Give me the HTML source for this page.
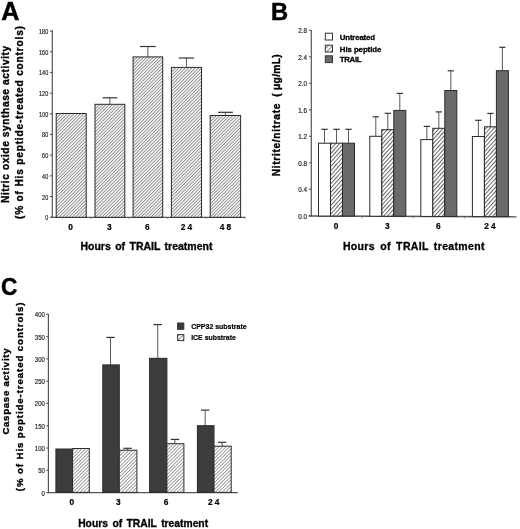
<!DOCTYPE html>
<html><head><meta charset="utf-8"><style>
html,body{margin:0;padding:0;background:#fff;overflow:hidden;}
svg{display:block;font-family:"Liberation Sans", sans-serif;}
#w{width:520px;height:529px;will-change:transform;}
</style></head><body>
<div id="w"><svg width="520" height="529" viewBox="0 0 520 529">
<defs>
<pattern id="hA" patternUnits="userSpaceOnUse" width="2.32" height="2.32" patternTransform="rotate(45)"><rect width="2.32" height="2.32" fill="#fff"/><rect x="0" y="0" width="0.95" height="2.32" fill="#8a8a8a"/></pattern>
<pattern id="hB" patternUnits="userSpaceOnUse" width="2.9" height="2.9" patternTransform="rotate(42)"><rect width="2.9" height="2.9" fill="#fff"/><rect x="0" y="0" width="1.0" height="2.9" fill="#666"/></pattern>
<pattern id="hC" patternUnits="userSpaceOnUse" width="2.45" height="2.45" patternTransform="rotate(45)"><rect width="2.45" height="2.45" fill="#fff"/><rect x="0" y="0" width="0.85" height="2.45" fill="#909090"/></pattern>
<pattern id="hL" patternUnits="userSpaceOnUse" width="3.0" height="3.0" patternTransform="rotate(45)"><rect width="3" height="3" fill="#fff"/><rect x="0" y="0" width="0.9" height="3" fill="#777"/></pattern>
</defs>
<g>
<rect width="520" height="529" fill="#fff"/>
<text x="1.30" y="20.00" font-size="25.2" font-weight="bold" text-anchor="start" fill="#000" stroke="#000" stroke-width="0.45">A</text>
<line x1="52.30" y1="30.30" x2="52.30" y2="217.80" stroke="#555" stroke-width="1.2"/>
<line x1="50.60" y1="217.30" x2="245.50" y2="217.30" stroke="#555" stroke-width="1.3"/>
<line x1="50.00" y1="217.20" x2="52.30" y2="217.20" stroke="#555" stroke-width="1.1"/>
<text x="48.20" y="220.20" font-size="7" font-weight="normal" text-anchor="end" textLength="3.05" lengthAdjust="spacingAndGlyphs" fill="#222" stroke="#222" stroke-width="0.18">0</text>
<line x1="50.00" y1="196.52" x2="52.30" y2="196.52" stroke="#555" stroke-width="1.1"/>
<text x="48.20" y="199.52" font-size="7" font-weight="normal" text-anchor="end" textLength="6.10" lengthAdjust="spacingAndGlyphs" fill="#222" stroke="#222" stroke-width="0.18">20</text>
<line x1="50.00" y1="175.84" x2="52.30" y2="175.84" stroke="#555" stroke-width="1.1"/>
<text x="48.20" y="178.84" font-size="7" font-weight="normal" text-anchor="end" textLength="6.10" lengthAdjust="spacingAndGlyphs" fill="#222" stroke="#222" stroke-width="0.18">40</text>
<line x1="50.00" y1="155.16" x2="52.30" y2="155.16" stroke="#555" stroke-width="1.1"/>
<text x="48.20" y="158.16" font-size="7" font-weight="normal" text-anchor="end" textLength="6.10" lengthAdjust="spacingAndGlyphs" fill="#222" stroke="#222" stroke-width="0.18">60</text>
<line x1="50.00" y1="134.48" x2="52.30" y2="134.48" stroke="#555" stroke-width="1.1"/>
<text x="48.20" y="137.48" font-size="7" font-weight="normal" text-anchor="end" textLength="6.10" lengthAdjust="spacingAndGlyphs" fill="#222" stroke="#222" stroke-width="0.18">80</text>
<line x1="50.00" y1="113.80" x2="52.30" y2="113.80" stroke="#555" stroke-width="1.1"/>
<text x="48.20" y="116.80" font-size="7" font-weight="normal" text-anchor="end" textLength="9.15" lengthAdjust="spacingAndGlyphs" fill="#222" stroke="#222" stroke-width="0.18">100</text>
<line x1="50.00" y1="93.12" x2="52.30" y2="93.12" stroke="#555" stroke-width="1.1"/>
<text x="48.20" y="96.12" font-size="7" font-weight="normal" text-anchor="end" textLength="9.15" lengthAdjust="spacingAndGlyphs" fill="#222" stroke="#222" stroke-width="0.18">120</text>
<line x1="50.00" y1="72.44" x2="52.30" y2="72.44" stroke="#555" stroke-width="1.1"/>
<text x="48.20" y="75.44" font-size="7" font-weight="normal" text-anchor="end" textLength="9.15" lengthAdjust="spacingAndGlyphs" fill="#222" stroke="#222" stroke-width="0.18">140</text>
<line x1="50.00" y1="51.76" x2="52.30" y2="51.76" stroke="#555" stroke-width="1.1"/>
<text x="48.20" y="54.76" font-size="7" font-weight="normal" text-anchor="end" textLength="9.15" lengthAdjust="spacingAndGlyphs" fill="#222" stroke="#222" stroke-width="0.18">160</text>
<line x1="50.00" y1="31.08" x2="52.30" y2="31.08" stroke="#555" stroke-width="1.1"/>
<text x="48.20" y="34.08" font-size="7" font-weight="normal" text-anchor="end" textLength="9.15" lengthAdjust="spacingAndGlyphs" fill="#222" stroke="#222" stroke-width="0.18">180</text>
<line x1="90.60" y1="217.90" x2="90.60" y2="219.00" stroke="#999" stroke-width="0.9"/>
<line x1="129.00" y1="217.90" x2="129.00" y2="219.00" stroke="#999" stroke-width="0.9"/>
<line x1="167.30" y1="217.90" x2="167.30" y2="219.00" stroke="#999" stroke-width="0.9"/>
<line x1="205.80" y1="217.90" x2="205.80" y2="219.00" stroke="#999" stroke-width="0.9"/>
<line x1="245.00" y1="217.90" x2="245.00" y2="219.00" stroke="#999" stroke-width="0.9"/>
<rect x="56.20" y="113.50" width="30.00" height="103.80" fill="url(#hA)" stroke="#2a2a2a" stroke-width="1"/>
<line x1="109.90" y1="97.80" x2="109.90" y2="104.30" stroke="#5a5a5a" stroke-width="1.0"/>
<line x1="102.60" y1="97.80" x2="117.20" y2="97.80" stroke="#333" stroke-width="1.2"/>
<rect x="95.00" y="104.30" width="29.80" height="113.00" fill="url(#hA)" stroke="#2a2a2a" stroke-width="1"/>
<line x1="147.90" y1="46.50" x2="147.90" y2="56.90" stroke="#5a5a5a" stroke-width="1.0"/>
<line x1="140.10" y1="46.50" x2="155.70" y2="46.50" stroke="#333" stroke-width="1.2"/>
<rect x="133.10" y="56.90" width="29.60" height="160.40" fill="url(#hA)" stroke="#2a2a2a" stroke-width="1"/>
<line x1="186.45" y1="58.00" x2="186.45" y2="67.40" stroke="#5a5a5a" stroke-width="1.0"/>
<line x1="178.75" y1="58.00" x2="194.15" y2="58.00" stroke="#333" stroke-width="1.2"/>
<rect x="171.40" y="67.40" width="30.10" height="149.90" fill="url(#hA)" stroke="#2a2a2a" stroke-width="1"/>
<line x1="225.40" y1="112.30" x2="225.40" y2="115.50" stroke="#5a5a5a" stroke-width="1.0"/>
<line x1="217.90" y1="112.30" x2="232.90" y2="112.30" stroke="#333" stroke-width="1.2"/>
<rect x="210.20" y="115.50" width="30.40" height="101.80" fill="url(#hA)" stroke="#2a2a2a" stroke-width="1"/>
<text x="70.50" y="229.60" font-size="8.3" font-weight="bold" text-anchor="middle" fill="#000" stroke="#000" stroke-width="0.2">0</text>
<text x="109.20" y="229.60" font-size="8.3" font-weight="bold" text-anchor="middle" fill="#000" stroke="#000" stroke-width="0.2">3</text>
<text x="147.20" y="229.60" font-size="8.3" font-weight="bold" text-anchor="middle" fill="#000" stroke="#000" stroke-width="0.2">6</text>
<text x="186.45" y="229.60" font-size="8.3" font-weight="bold" text-anchor="middle" fill="#000" stroke="#000" stroke-width="0.2">2 4</text>
<text x="225.40" y="229.60" font-size="8.3" font-weight="bold" text-anchor="middle" fill="#000" stroke="#000" stroke-width="0.2">4 8</text>
<text x="80.40" y="249.80" font-size="10.5" font-weight="bold" text-anchor="start" fill="#000" style="word-spacing:1.5px" stroke="#000" stroke-width="0.3">Hours of TRAIL treatment</text>
<text x="8.60" y="203.00" font-size="10.2" font-weight="bold" text-anchor="start" textLength="157.20" lengthAdjust="spacing" transform="rotate(-90 8.60 203.00)" fill="#000" stroke="#000" stroke-width="0.35">Nitric oxide synthase activity</text>
<text x="22.60" y="219.00" font-size="10.2" font-weight="bold" text-anchor="start" textLength="193.00" lengthAdjust="spacing" transform="rotate(-90 22.60 219.00)" fill="#000" stroke="#000" stroke-width="0.35">(% of His peptide-treated controls)</text>
<text x="271.00" y="19.80" font-size="23.7" font-weight="bold" text-anchor="start" fill="#000" stroke="#000" stroke-width="0.5">B</text>
<line x1="311.30" y1="30.00" x2="311.30" y2="216.30" stroke="#555" stroke-width="1.2"/>
<line x1="308.70" y1="216.00" x2="516.50" y2="216.80" stroke="#555" stroke-width="1.3"/>
<line x1="309.00" y1="215.70" x2="311.30" y2="215.70" stroke="#555" stroke-width="1.1"/>
<text x="307.00" y="218.80" font-size="7" font-weight="normal" text-anchor="end" textLength="8.80" lengthAdjust="spacingAndGlyphs" fill="#222" stroke="#222" stroke-width="0.18">0.0</text>
<line x1="309.00" y1="189.22" x2="311.30" y2="189.22" stroke="#555" stroke-width="1.1"/>
<text x="307.00" y="192.32" font-size="7" font-weight="normal" text-anchor="end" textLength="8.80" lengthAdjust="spacingAndGlyphs" fill="#222" stroke="#222" stroke-width="0.18">0.4</text>
<line x1="309.00" y1="162.74" x2="311.30" y2="162.74" stroke="#555" stroke-width="1.1"/>
<text x="307.00" y="165.84" font-size="7" font-weight="normal" text-anchor="end" textLength="8.80" lengthAdjust="spacingAndGlyphs" fill="#222" stroke="#222" stroke-width="0.18">0.8</text>
<line x1="309.00" y1="136.26" x2="311.30" y2="136.26" stroke="#555" stroke-width="1.1"/>
<text x="307.00" y="139.36" font-size="7" font-weight="normal" text-anchor="end" textLength="8.80" lengthAdjust="spacingAndGlyphs" fill="#222" stroke="#222" stroke-width="0.18">1.2</text>
<line x1="309.00" y1="109.78" x2="311.30" y2="109.78" stroke="#555" stroke-width="1.1"/>
<text x="307.00" y="112.88" font-size="7" font-weight="normal" text-anchor="end" textLength="8.80" lengthAdjust="spacingAndGlyphs" fill="#222" stroke="#222" stroke-width="0.18">1.6</text>
<line x1="309.00" y1="83.30" x2="311.30" y2="83.30" stroke="#555" stroke-width="1.1"/>
<text x="307.00" y="86.40" font-size="7" font-weight="normal" text-anchor="end" textLength="8.80" lengthAdjust="spacingAndGlyphs" fill="#222" stroke="#222" stroke-width="0.18">2.0</text>
<line x1="309.00" y1="56.82" x2="311.30" y2="56.82" stroke="#555" stroke-width="1.1"/>
<text x="307.00" y="59.92" font-size="7" font-weight="normal" text-anchor="end" textLength="8.80" lengthAdjust="spacingAndGlyphs" fill="#222" stroke="#222" stroke-width="0.18">2.4</text>
<line x1="309.00" y1="30.34" x2="311.30" y2="30.34" stroke="#555" stroke-width="1.1"/>
<text x="307.00" y="33.44" font-size="7" font-weight="normal" text-anchor="end" textLength="8.80" lengthAdjust="spacingAndGlyphs" fill="#222" stroke="#222" stroke-width="0.18">2.8</text>
<line x1="362.20" y1="217.00" x2="362.20" y2="218.40" stroke="#888" stroke-width="0.9"/>
<line x1="413.30" y1="217.00" x2="413.30" y2="218.40" stroke="#888" stroke-width="0.9"/>
<line x1="464.60" y1="217.00" x2="464.60" y2="218.40" stroke="#888" stroke-width="0.9"/>
<line x1="324.50" y1="129.30" x2="324.50" y2="143.20" stroke="#5a5a5a" stroke-width="1.0"/>
<line x1="321.35" y1="129.30" x2="327.65" y2="129.30" stroke="#333" stroke-width="1.2"/>
<rect x="318.50" y="143.20" width="12.00" height="72.84" fill="#fff" stroke="#2a2a2a" stroke-width="1"/>
<line x1="336.50" y1="129.30" x2="336.50" y2="143.20" stroke="#5a5a5a" stroke-width="1.0"/>
<line x1="333.35" y1="129.30" x2="339.65" y2="129.30" stroke="#333" stroke-width="1.2"/>
<rect x="330.50" y="143.20" width="12.00" height="72.84" fill="url(#hB)" stroke="#2a2a2a" stroke-width="1"/>
<line x1="348.50" y1="129.30" x2="348.50" y2="143.20" stroke="#5a5a5a" stroke-width="1.0"/>
<line x1="345.35" y1="129.30" x2="351.65" y2="129.30" stroke="#333" stroke-width="1.2"/>
<rect x="342.50" y="143.20" width="12.00" height="72.84" fill="#6a6a6a" stroke="#2a2a2a" stroke-width="1"/>
<text x="336.00" y="228.50" font-size="8.3" font-weight="bold" text-anchor="middle" fill="#000" stroke="#000" stroke-width="0.2">0</text>
<line x1="375.80" y1="116.80" x2="375.80" y2="136.30" stroke="#5a5a5a" stroke-width="1.0"/>
<line x1="372.65" y1="116.80" x2="378.95" y2="116.80" stroke="#333" stroke-width="1.2"/>
<rect x="369.80" y="136.30" width="12.00" height="79.94" fill="#fff" stroke="#2a2a2a" stroke-width="1"/>
<line x1="387.80" y1="113.30" x2="387.80" y2="129.70" stroke="#5a5a5a" stroke-width="1.0"/>
<line x1="384.65" y1="113.30" x2="390.95" y2="113.30" stroke="#333" stroke-width="1.2"/>
<rect x="381.80" y="129.70" width="12.00" height="86.54" fill="url(#hB)" stroke="#2a2a2a" stroke-width="1"/>
<line x1="399.80" y1="93.40" x2="399.80" y2="110.40" stroke="#5a5a5a" stroke-width="1.0"/>
<line x1="396.65" y1="93.40" x2="402.95" y2="93.40" stroke="#333" stroke-width="1.2"/>
<rect x="393.80" y="110.40" width="12.00" height="105.84" fill="#6a6a6a" stroke="#2a2a2a" stroke-width="1"/>
<text x="387.30" y="228.50" font-size="8.3" font-weight="bold" text-anchor="middle" fill="#000" stroke="#000" stroke-width="0.2">3</text>
<line x1="426.80" y1="126.40" x2="426.80" y2="139.60" stroke="#5a5a5a" stroke-width="1.0"/>
<line x1="423.65" y1="126.40" x2="429.95" y2="126.40" stroke="#333" stroke-width="1.2"/>
<rect x="420.80" y="139.60" width="12.00" height="76.83" fill="#fff" stroke="#2a2a2a" stroke-width="1"/>
<line x1="438.80" y1="111.90" x2="438.80" y2="128.30" stroke="#5a5a5a" stroke-width="1.0"/>
<line x1="435.65" y1="111.90" x2="441.95" y2="111.90" stroke="#333" stroke-width="1.2"/>
<rect x="432.80" y="128.30" width="12.00" height="88.13" fill="url(#hB)" stroke="#2a2a2a" stroke-width="1"/>
<line x1="450.80" y1="70.80" x2="450.80" y2="90.50" stroke="#5a5a5a" stroke-width="1.0"/>
<line x1="447.65" y1="70.80" x2="453.95" y2="70.80" stroke="#333" stroke-width="1.2"/>
<rect x="444.80" y="90.50" width="12.00" height="125.93" fill="#6a6a6a" stroke="#2a2a2a" stroke-width="1"/>
<text x="438.30" y="228.50" font-size="8.3" font-weight="bold" text-anchor="middle" fill="#000" stroke="#000" stroke-width="0.2">6</text>
<line x1="478.40" y1="120.30" x2="478.40" y2="136.50" stroke="#5a5a5a" stroke-width="1.0"/>
<line x1="475.25" y1="120.30" x2="481.55" y2="120.30" stroke="#333" stroke-width="1.2"/>
<rect x="472.40" y="136.50" width="12.00" height="80.13" fill="#fff" stroke="#2a2a2a" stroke-width="1"/>
<line x1="490.40" y1="113.40" x2="490.40" y2="126.80" stroke="#5a5a5a" stroke-width="1.0"/>
<line x1="487.25" y1="113.40" x2="493.55" y2="113.40" stroke="#333" stroke-width="1.2"/>
<rect x="484.40" y="126.80" width="12.00" height="89.83" fill="url(#hB)" stroke="#2a2a2a" stroke-width="1"/>
<line x1="502.40" y1="47.30" x2="502.40" y2="70.70" stroke="#5a5a5a" stroke-width="1.0"/>
<line x1="499.25" y1="47.30" x2="505.55" y2="47.30" stroke="#333" stroke-width="1.2"/>
<rect x="496.40" y="70.70" width="12.00" height="145.93" fill="#6a6a6a" stroke="#2a2a2a" stroke-width="1"/>
<text x="489.90" y="228.50" font-size="8.3" font-weight="bold" text-anchor="middle" fill="#000" stroke="#000" stroke-width="0.2">2 4</text>
<text x="342.90" y="249.70" font-size="10.5" font-weight="bold" text-anchor="start" fill="#000" style="word-spacing:2.0px;letter-spacing:0.35px" stroke="#000" stroke-width="0.3">Hours of TRAIL treatment</text>
<text x="280.30" y="176.20" font-size="10.2" font-weight="bold" text-anchor="start" textLength="72.60" lengthAdjust="spacing" transform="rotate(-90 280.30 176.20)" fill="#000" stroke="#000" stroke-width="0.35">Nitrite/nitrate</text>
<text x="280.30" y="96.80" font-size="10.2" font-weight="bold" text-anchor="start" textLength="42.40" lengthAdjust="spacing" transform="rotate(-90 280.30 96.80)" fill="#000" stroke="#000" stroke-width="0.35">(&#160;&#956;g/mL)</text>
<rect x="325.30" y="33.20" width="7.20" height="6.80" fill="#fff" stroke="#333" stroke-width="1"/>
<rect x="325.30" y="45.20" width="7.20" height="6.80" fill="url(#hL)" stroke="#333" stroke-width="1"/>
<rect x="325.30" y="55.80" width="7.20" height="6.80" fill="#6a6a6a" stroke="#333" stroke-width="1"/>
<text x="339.80" y="40.20" font-size="7.8" font-weight="bold" text-anchor="start" textLength="35.20" lengthAdjust="spacing" fill="#000" stroke="#000" stroke-width="0.3">Untreated</text>
<text x="339.80" y="51.80" font-size="7.8" font-weight="bold" text-anchor="start" textLength="41.50" lengthAdjust="spacing" fill="#000" stroke="#000" stroke-width="0.3">His peptide</text>
<text x="339.80" y="62.40" font-size="7.8" font-weight="bold" text-anchor="start" textLength="21.70" lengthAdjust="spacing" fill="#000" stroke="#000" stroke-width="0.3">TRAIL</text>
<text x="0" y="0" font-size="24.6" font-weight="bold" stroke="#000" stroke-width="0.5" transform="translate(1.0 295.2) scale(0.92 1)">C</text>
<line x1="48.40" y1="313.80" x2="48.40" y2="493.00" stroke="#555" stroke-width="1.2"/>
<line x1="47.50" y1="492.70" x2="237.70" y2="492.70" stroke="#555" stroke-width="1.2"/>
<line x1="46.30" y1="492.60" x2="48.40" y2="492.60" stroke="#555" stroke-width="1.1"/>
<text x="44.90" y="495.60" font-size="7" font-weight="normal" text-anchor="end" textLength="3.35" lengthAdjust="spacingAndGlyphs" fill="#222" stroke="#222" stroke-width="0.18">0</text>
<line x1="46.30" y1="470.31" x2="48.40" y2="470.31" stroke="#555" stroke-width="1.1"/>
<text x="44.90" y="473.31" font-size="7" font-weight="normal" text-anchor="end" textLength="6.70" lengthAdjust="spacingAndGlyphs" fill="#222" stroke="#222" stroke-width="0.18">50</text>
<line x1="46.30" y1="448.02" x2="48.40" y2="448.02" stroke="#555" stroke-width="1.1"/>
<text x="44.90" y="451.02" font-size="7" font-weight="normal" text-anchor="end" textLength="10.05" lengthAdjust="spacingAndGlyphs" fill="#222" stroke="#222" stroke-width="0.18">100</text>
<line x1="46.30" y1="425.73" x2="48.40" y2="425.73" stroke="#555" stroke-width="1.1"/>
<text x="44.90" y="428.73" font-size="7" font-weight="normal" text-anchor="end" textLength="10.05" lengthAdjust="spacingAndGlyphs" fill="#222" stroke="#222" stroke-width="0.18">150</text>
<line x1="46.30" y1="403.44" x2="48.40" y2="403.44" stroke="#555" stroke-width="1.1"/>
<text x="44.90" y="406.44" font-size="7" font-weight="normal" text-anchor="end" textLength="10.05" lengthAdjust="spacingAndGlyphs" fill="#222" stroke="#222" stroke-width="0.18">200</text>
<line x1="46.30" y1="381.15" x2="48.40" y2="381.15" stroke="#555" stroke-width="1.1"/>
<text x="44.90" y="384.15" font-size="7" font-weight="normal" text-anchor="end" textLength="10.05" lengthAdjust="spacingAndGlyphs" fill="#222" stroke="#222" stroke-width="0.18">250</text>
<line x1="46.30" y1="358.86" x2="48.40" y2="358.86" stroke="#555" stroke-width="1.1"/>
<text x="44.90" y="361.86" font-size="7" font-weight="normal" text-anchor="end" textLength="10.05" lengthAdjust="spacingAndGlyphs" fill="#222" stroke="#222" stroke-width="0.18">300</text>
<line x1="46.30" y1="336.57" x2="48.40" y2="336.57" stroke="#555" stroke-width="1.1"/>
<text x="44.90" y="339.57" font-size="7" font-weight="normal" text-anchor="end" textLength="10.05" lengthAdjust="spacingAndGlyphs" fill="#222" stroke="#222" stroke-width="0.18">350</text>
<line x1="46.30" y1="314.28" x2="48.40" y2="314.28" stroke="#555" stroke-width="1.1"/>
<text x="44.90" y="317.28" font-size="7" font-weight="normal" text-anchor="end" textLength="10.05" lengthAdjust="spacingAndGlyphs" fill="#222" stroke="#222" stroke-width="0.18">400</text>
<rect x="55.90" y="449.00" width="16.70" height="43.40" fill="#3c3c3c" stroke="#2a2a2a" stroke-width="1"/>
<rect x="72.60" y="448.50" width="16.70" height="43.90" fill="url(#hC)" stroke="#2a2a2a" stroke-width="1"/>
<text x="71.70" y="504.60" font-size="8.3" font-weight="bold" text-anchor="middle" fill="#000" stroke="#000" stroke-width="0.2">0</text>
<line x1="110.55" y1="337.40" x2="110.55" y2="364.90" stroke="#5a5a5a" stroke-width="1.0"/>
<line x1="106.35" y1="337.40" x2="114.75" y2="337.40" stroke="#333" stroke-width="1.2"/>
<rect x="102.80" y="364.90" width="16.50" height="127.50" fill="#3c3c3c" stroke="#2a2a2a" stroke-width="1"/>
<line x1="127.60" y1="448.30" x2="127.60" y2="450.20" stroke="#5a5a5a" stroke-width="1.0"/>
<line x1="123.40" y1="448.30" x2="131.80" y2="448.30" stroke="#333" stroke-width="1.2"/>
<rect x="119.30" y="450.20" width="17.60" height="42.20" fill="url(#hC)" stroke="#2a2a2a" stroke-width="1"/>
<text x="118.40" y="504.60" font-size="8.3" font-weight="bold" text-anchor="middle" fill="#000" stroke="#000" stroke-width="0.2">3</text>
<line x1="157.75" y1="324.60" x2="157.75" y2="358.30" stroke="#5a5a5a" stroke-width="1.0"/>
<line x1="153.55" y1="324.60" x2="161.95" y2="324.60" stroke="#333" stroke-width="1.2"/>
<rect x="149.60" y="358.30" width="17.30" height="134.10" fill="#3c3c3c" stroke="#2a2a2a" stroke-width="1"/>
<line x1="174.90" y1="439.40" x2="174.90" y2="443.70" stroke="#5a5a5a" stroke-width="1.0"/>
<line x1="170.70" y1="439.40" x2="179.10" y2="439.40" stroke="#333" stroke-width="1.2"/>
<rect x="166.90" y="443.70" width="17.00" height="48.70" fill="url(#hC)" stroke="#2a2a2a" stroke-width="1"/>
<text x="166.00" y="504.60" font-size="8.3" font-weight="bold" text-anchor="middle" fill="#000" stroke="#000" stroke-width="0.2">6</text>
<line x1="205.20" y1="410.10" x2="205.20" y2="425.70" stroke="#5a5a5a" stroke-width="1.0"/>
<line x1="201.00" y1="410.10" x2="209.40" y2="410.10" stroke="#333" stroke-width="1.2"/>
<rect x="197.40" y="425.70" width="16.60" height="66.70" fill="#3c3c3c" stroke="#2a2a2a" stroke-width="1"/>
<line x1="222.10" y1="442.30" x2="222.10" y2="446.20" stroke="#5a5a5a" stroke-width="1.0"/>
<line x1="217.90" y1="442.30" x2="226.30" y2="442.30" stroke="#333" stroke-width="1.2"/>
<rect x="214.00" y="446.20" width="17.20" height="46.20" fill="url(#hC)" stroke="#2a2a2a" stroke-width="1"/>
<text x="213.70" y="504.60" font-size="8.3" font-weight="bold" text-anchor="middle" fill="#000" stroke="#000" stroke-width="0.2">2 4</text>
<text x="78.20" y="526.60" font-size="10.3" font-weight="bold" text-anchor="start" fill="#000" style="word-spacing:1.6px" stroke="#000" stroke-width="0.3">Hours of TRAIL treatment</text>
<text x="8.80" y="434.60" font-size="9.6" font-weight="bold" text-anchor="start" textLength="86.20" lengthAdjust="spacing" transform="rotate(-90 8.80 434.60)" fill="#000" stroke="#000" stroke-width="0.35">Caspase activity</text>
<text x="23.00" y="491.20" font-size="9.6" font-weight="bold" text-anchor="start" textLength="188.60" lengthAdjust="spacing" transform="rotate(-90 23.00 491.20)" fill="#000" stroke="#000" stroke-width="0.35">(% of His peptide-treated controls)</text>
<rect x="177.60" y="323.00" width="6.20" height="6.30" fill="#3a3a3a" stroke="#333" stroke-width="1"/>
<rect x="177.60" y="334.60" width="6.20" height="6.00" fill="url(#hL)" stroke="#333" stroke-width="1"/>
<text x="191.20" y="329.20" font-size="7.6" font-weight="bold" text-anchor="start" textLength="55.40" lengthAdjust="spacingAndGlyphs" fill="#000" stroke="#000" stroke-width="0.2">CPP32 substrate</text>
<text x="191.20" y="340.30" font-size="7.6" font-weight="bold" text-anchor="start" textLength="44.60" lengthAdjust="spacingAndGlyphs" fill="#000" stroke="#000" stroke-width="0.2">ICE substrate</text>
</g>
</svg></div>
</body></html>
